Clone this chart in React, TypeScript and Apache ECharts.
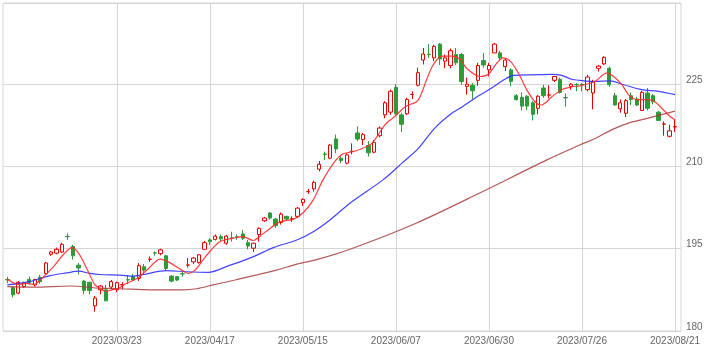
import React, { useEffect, useRef } from 'react';
import * as echarts from 'echarts';

// OHLC per trading day (index 0 = first candle, index 122 = 2023/08/21)
const opens = [
  189.4, 187.9, 186.9, 188.1, 189.4, 188.4, 189.8, 190.5, 194.0, 194.2,
  194.4, 197.25, 195.4, 192.0, 189.1, 188.9, 184.6, 187.5, 187.5, 188.0,
  187.5, 188.4, 189.35, 189.9, 189.6, 191.7, 193.05, 194.25, 194.1, 193.7,
  190.0, 189.9, 190.45, 192.0, 192.6, 192.5, 194.9, 196.6, 196.7, 197.2,
  196.0, 196.95, 197.15, 197.7, 196.1, 195.1, 197.6, 200.1, 201.5, 200.4,
  199.8, 200.9, 200.4, 200.9, 203.4, 205.4, 205.9, 209.5, 212.25, 211.5,
  215.0, 211.5, 210.6, 212.7, 216.1, 214.9, 213.8, 212.6, 215.6, 219.4,
  219.9, 224.4, 219.4, 219.6, 223.1, 224.8, 229.4, 230.45, 229.8, 232.3,
  229.2, 228.4, 230.4, 230.4, 224.6, 224.8, 225.7, 229.3, 227.6, 230.7,
  230.7, 228.2, 227.6, 222.9, 222.6, 222.8, 221.6, 220.6, 224.3, 223.0,
  225.7, 225.9, 222.55, 224.6, 224.95, 224.95, 224.0, 223.4, 227.9, 228.7,
  227.9, 222.9, 220.5, 219.7, 222.9, 222.3, 220.2, 223.4, 222.9, 219.9,
  217.7, 215.5, 217.2,
];
const closes = [
  189.3, 186.6, 188.9, 188.8, 188.8, 189.4, 189.0, 192.4, 194.4, 194.9,
  195.8, 197.2, 193.7, 191.5, 187.4, 187.4, 186.0, 188.2, 185.5, 189.0,
  188.8, 188.45, 189.3, 189.3, 191.9, 191.1, 193.1, 194.2, 194.8, 191.4,
  189.1, 189.3, 190.4, 192.05, 193.3, 193.9, 196.1, 196.3, 197.3, 196.8,
  197.3, 196.9, 197.1, 196.9, 195.5, 196.0, 198.7, 200.6, 200.6, 199.2,
  201.3, 200.4, 200.45, 202.4, 204.0, 205.45, 207.1, 210.4, 212.2, 213.9,
  213.2, 211.1, 212.1, 212.75, 215.0, 215.8, 212.5, 214.4, 217.0, 221.6,
  223.7, 219.6, 217.7, 222.2, 223.15, 227.1, 230.5, 230.4, 231.9, 229.6,
  229.8, 231.1, 228.9, 225.5, 225.0, 223.8, 228.4, 228.5, 228.4, 232.3,
  229.8, 229.4, 225.5, 222.2, 221.0, 221.0, 219.5, 222.8, 222.9, 223.05,
  226.4, 223.5, 222.5, 225.0, 224.9, 224.9, 226.3, 225.5, 228.3, 229.9,
  224.9, 221.2, 221.6, 222.0, 222.2, 221.2, 223.5, 220.6, 221.8, 218.4,
  217.75, 216.5, 217.25,
];
const lows = [
  188.7, 186.1, 186.7, 187.9, 188.5, 188.1, 188.6, 190.3, 193.7, 194.0,
  194.2, 196.6, 193.0, 190.3, 186.7, 186.7, 183.5, 186.7, 185.5, 187.6,
  187.1, 187.6, 188.5, 189.1, 189.1, 190.3, 192.6, 193.7, 193.8, 191.1,
  188.9, 189.1, 189.9, 191.6, 192.2, 192.3, 194.8, 195.7, 196.5, 196.4,
  195.7, 196.3, 196.6, 196.6, 194.9, 194.4, 196.3, 199.9, 200.3, 198.8,
  199.4, 200.2, 199.9, 200.6, 202.8, 205.0, 205.4, 209.1, 211.2, 211.3,
  212.4, 210.6, 210.4, 212.2, 214.6, 213.9, 211.8, 212.4, 215.3, 218.8,
  219.4, 219.4, 216.3, 219.4, 222.3, 224.6, 228.6, 229.8, 229.2, 228.5,
  227.9, 227.9, 228.5, 224.9, 223.1, 222.3, 224.7, 228.0, 226.4, 230.7,
  229.4, 227.4, 224.6, 222.0, 220.2, 220.3, 218.4, 219.5, 222.5, 222.4,
  225.4, 223.3, 220.9, 224.0, 223.7, 223.7, 223.7, 220.4, 227.3, 228.5,
  224.5, 221.1, 219.8, 219.0, 221.2, 221.0, 220.2, 220.2, 221.3, 218.3,
  215.6, 215.3, 216.3,
];
const highs = [
  189.9, 188.1, 189.1, 189.0, 189.9, 189.5, 190.2, 192.6, 194.6, 195.2,
  196.1, 197.8, 195.7, 192.4, 189.3, 188.9, 186.4, 188.4, 188.4, 189.3,
  189.0, 188.9, 190.2, 190.4, 192.4, 192.2, 193.6, 194.5, 195.0, 193.9,
  190.2, 190.0, 190.8, 193.3, 193.5, 194.0, 196.4, 196.9, 197.6, 197.6,
  197.5, 198.1, 197.6, 198.4, 196.6, 196.1, 198.9, 200.8, 201.7, 200.6,
  201.6, 201.0, 200.9, 202.6, 204.2, 205.9, 207.4, 211.0, 212.7, 214.1,
  215.8, 211.9, 212.4, 214.2, 217.3, 216.1, 214.6, 214.8, 217.3, 221.9,
  224.0, 225.0, 219.8, 222.5, 223.7, 228.0, 231.6, 232.3, 232.2, 232.5,
  230.4, 231.5, 231.6, 230.7, 226.2, 225.2, 228.9, 230.7, 228.9, 232.5,
  231.1, 229.8, 227.9, 223.2, 223.5, 223.0, 221.9, 223.0, 224.9, 224.8,
  226.5, 226.2, 223.3, 225.2, 225.2, 225.2, 226.7, 225.8, 228.5, 230.1,
  228.2, 223.4, 222.2, 222.3, 223.5, 222.7, 223.8, 224.3, 223.2, 220.1,
  218.2, 217.6, 218.5,
];

// x-axis tick labels at candle indices
const tickIndex = [20, 37, 54, 71, 88, 105, 122];
const tickLabels = ['2023/03/23', '2023/04/17', '2023/05/15', '2023/06/07', '2023/06/30', '2023/07/26', '2023/08/21'];

// moving averages: [candle index, value]
const ma5 = [
  [0, 189.5], [2, 188.5], [3.5, 188.7], [4.9, 188.5], [6.3, 189.6], [8.4, 191.7], [10.2, 193.9], [11.8, 195.2],
  [13, 194.2], [14.5, 191.4], [16, 188.4], [16.9, 187.8], [18, 187.2], [19.1, 187.5], [20.3, 187.8], [21.8, 188.7],
  [23.9, 189.7], [25.8, 191.4], [27.9, 193.1], [29.4, 192.6], [31.9, 191.1], [33.1, 190.5], [34.3, 191.1], [35.8, 193.0],
  [37, 194.5], [38.9, 196.3], [41.6, 197.0], [43.1, 197.2], [44.9, 196.5], [46.8, 197.8], [49.8, 199.9], [52.3, 200.4],
  [54.1, 201.6], [55.9, 203.9], [57.7, 207.6], [59.6, 210.6], [61.1, 212.2], [62.6, 212.6], [64.1, 213.0], [66.6, 214.2],
  [69, 217.6], [70.8, 219.1], [72.7, 220.9], [75, 222.0], [76.6, 225.8], [77.8, 228.5], [79.4, 230.1], [81.2, 230.1],
  [82.7, 229.6], [83.9, 227.9], [86.4, 226.4], [87.9, 226.8], [89.4, 228.8], [90.6, 229.8], [91.9, 229.2], [93.4, 227.0],
  [94.9, 224.0], [96.4, 221.8], [97.6, 221.2], [99.5, 222.7], [101.3, 224.0], [103.1, 224.5], [104.6, 224.7], [105.5, 224.9],
  [107.4, 225.5], [109.5, 227.0], [110.7, 226.5], [112.3, 224.9], [113.5, 223.1], [115, 222.2], [116.8, 222.2], [118.3, 221.8],
  [119.9, 220.3], [121.1, 219.1], [122, 218.5],
];
const ma25 = [
  [0, 188.4], [4, 189.0], [7.8, 190.1], [10.9, 190.6], [13, 190.9], [15.1, 190.5], [16.9, 190.3], [20.6, 190.2],
  [23, 190.0], [24.8, 190.3], [29.1, 191.0], [32.8, 190.8], [36.7, 190.7], [40.7, 192.0], [42.5, 192.6], [45.3, 193.7],
  [48.6, 195.2], [52.9, 196.6], [55.9, 198.1], [59, 200.3], [62.6, 203.3], [68.7, 207.6], [72.1, 210.6], [75.1, 213.3],
  [78.1, 217.0], [81.2, 219.7], [82.7, 220.6], [85.5, 222.5], [88.5, 224.3], [90.9, 225.9], [92.5, 226.6], [95.8, 226.7],
  [99.5, 226.8], [101.3, 226.6], [103.1, 225.9], [104.6, 225.7], [107.4, 225.5], [110.1, 225.6], [112.6, 224.9], [115.9, 224.0],
  [119, 223.7], [122, 223.1],
];
const ma75 = [
  [0, 188.1], [4.8, 188.0], [11.5, 188.2], [16.9, 187.8], [20.6, 187.7], [26.1, 187.5], [31.9, 187.5], [34.6, 187.7],
  [37.6, 188.4], [41.6, 189.3], [49.2, 191.1], [52.9, 192.2], [56.5, 193.0], [62.6, 194.9], [74.8, 199.7], [86.4, 205.2],
  [98.6, 211.2], [104.6, 213.9], [107.4, 215.1], [110.7, 216.8], [113.5, 217.9], [117.1, 218.8], [122, 220.1],
];

const FONT = '"Liberation Sans", Arial, sans-serif';
const GRID_COLOR = '#d6d6d6';

export default function App() {
  const ref = useRef<HTMLDivElement>(null);
  useEffect(() => {
    const chart = echarts.init(ref.current as HTMLDivElement, null, { renderer: 'svg' });
    const candleData = opens.map((o, i) => [i, o, closes[i], lows[i], highs[i]]);
    chart.setOption({
      animation: false,
      grid: {
        left: 3, top: 3, width: 678, height: 328,
        show: true, borderColor: GRID_COLOR, borderWidth: 1, backgroundColor: 'transparent',
      },
      xAxis: {
        type: 'value', min: -0.8, max: 123.1,
        axisLine: { show: false },
        axisTick: { show: false, customValues: tickIndex },
        splitLine: { show: true, lineStyle: { color: GRID_COLOR, width: 1 } },
        axisLabel: {
          customValues: tickIndex,
          formatter: (v: number) => {
            const k = tickIndex.indexOf(Math.round(v));
            return k >= 0 ? tickLabels[k] : '';
          },
          color: '#666', fontSize: 10, fontFamily: FONT, margin: 4,
        },
      },
      yAxis: {
        type: 'value', position: 'right', min: 180, max: 239.8, interval: 15,
        axisLine: { show: false },
        axisTick: { show: false },
        splitLine: { show: true, lineStyle: { color: GRID_COLOR, width: 1 } },
        axisLabel: {
          showMaxLabel: false, verticalAlign: 'bottom',
          color: '#666', fontSize: 10, fontFamily: FONT, margin: 5,
        },
      },
      series: [
        {
          type: 'candlestick',
          data: candleData,
          barWidth: 3.8,
          itemStyle: {
            color: '#ffffff', color0: '#2e9a3a',
            borderColor: '#e60000', borderColor0: '#2e9a3a', borderWidth: 1,
          },
        },
        {
          type: 'line', data: ma75, showSymbol: false, smooth: 0.3,
          lineStyle: { color: '#a83a3a', width: 1.2, opacity: 0.85 },
        },
        {
          type: 'line', data: ma25, showSymbol: false, smooth: 0.3,
          lineStyle: { color: '#2f2fff', width: 1.2, opacity: 0.9 },
        },
        {
          type: 'line', data: ma5, showSymbol: false, smooth: 0.3,
          lineStyle: { color: '#ff2a2a', width: 1.2, opacity: 0.9 },
        },
      ],
    });
    return () => chart.dispose();
  }, []);
  return <div ref={ref} style={{ position: 'fixed', left: 0, top: 0, width: 723, height: 353 }} />;
}
